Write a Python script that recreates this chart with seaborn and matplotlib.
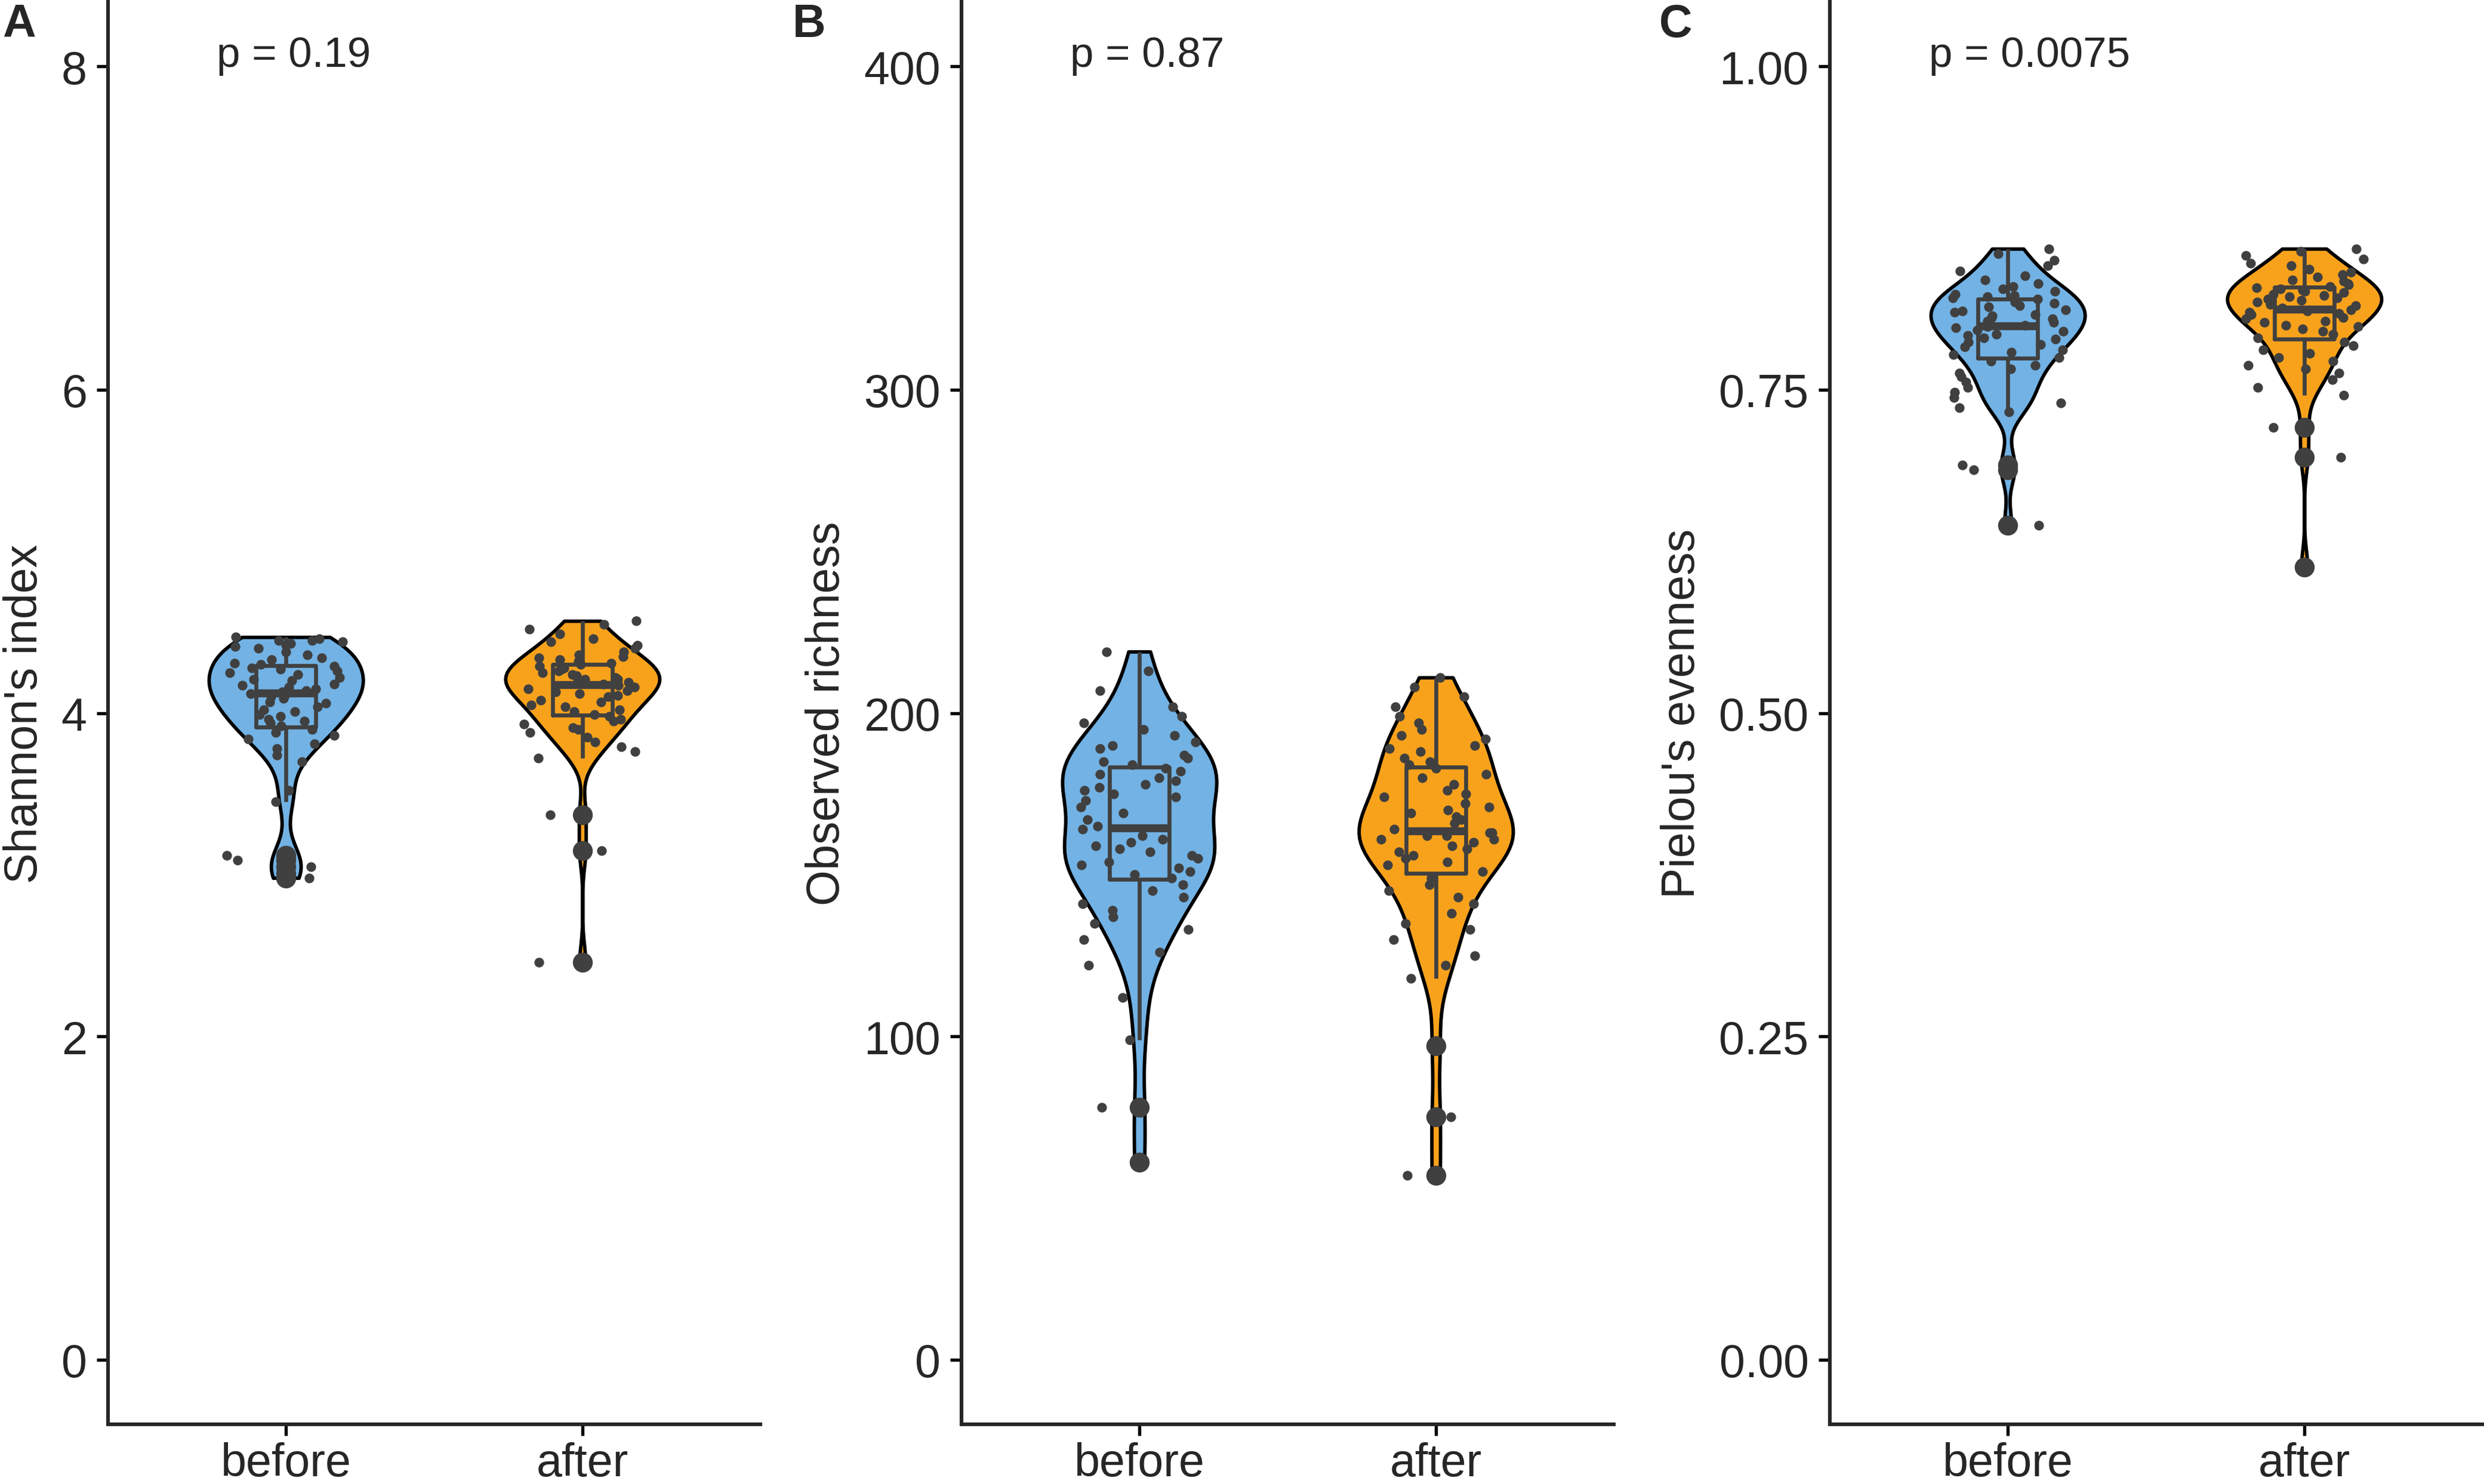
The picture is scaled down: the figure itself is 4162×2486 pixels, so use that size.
import numpy as np
import pandas as pd
import seaborn as sns
import matplotlib
matplotlib.use("Agg")
import matplotlib.pyplot as plt

#%% data
groups = ["before", "after"]

shannon_before = [4.47, 4.46, 4.45, 4.45, 4.44, 4.43, 4.42, 4.41, 4.40, 4.38, 4.36, 4.34, 4.33, 4.31, 4.30,
                  4.29, 4.28, 4.27, 4.26, 4.25, 4.24, 4.22, 4.21, 4.20, 4.18, 4.17, 4.16, 4.15, 4.14, 4.13,
                  4.12, 4.11, 4.10, 4.09, 4.07, 4.06, 4.04, 4.02, 4.01, 3.99, 3.98, 3.96, 3.95, 3.94, 3.92,
                  3.90, 3.88, 3.86, 3.84, 3.81, 3.78, 3.74, 3.70, 3.52, 3.45, 3.12, 3.09, 3.05, 3.01, 2.98]
shannon_after = [4.57, 4.55, 4.52, 4.49, 4.46, 4.44, 4.42, 4.40, 4.38, 4.36, 4.35, 4.34, 4.33, 4.32, 4.31,
                 4.30, 4.29, 4.28, 4.27, 4.26, 4.25, 4.24, 4.23, 4.22, 4.21, 4.21, 4.20, 4.19, 4.19, 4.18,
                 4.17, 4.16, 4.15, 4.14, 4.13, 4.12, 4.11, 4.10, 4.08, 4.07, 4.05, 4.04, 4.02, 4.01, 3.99,
                 3.98, 3.96, 3.95, 3.93, 3.91, 3.90, 3.88, 3.85, 3.82, 3.79, 3.76, 3.72, 3.37, 3.15, 2.46]

richness_before = [219, 213, 207, 202, 199, 197, 195, 193, 191, 190, 189, 187, 186, 185, 184,
                   183, 182, 181, 180, 179, 178, 177, 176, 175, 174, 173, 171, 169, 167, 165,
                   164, 162, 161, 160, 159, 158, 157, 156, 155, 154, 153, 152, 151, 150, 149,
                   147, 145, 143, 141, 139, 137, 135, 133, 130, 126, 122, 112, 99, 78, 61]
richness_after = [211, 208, 205, 202, 199, 197, 195, 193, 192, 190, 189, 188, 186, 185, 184,
                  183, 181, 180, 178, 176, 175, 174, 172, 171, 170, 169, 168, 167, 166, 164,
                  163, 163, 162, 162, 161, 161, 160, 159, 158, 157, 156, 155, 154, 153, 151,
                  149, 147, 145, 143, 141, 138, 135, 133, 130, 125, 122, 118, 97, 75, 57]

evenness_before = [0.859, 0.855, 0.850, 0.846, 0.842, 0.838, 0.835, 0.832, 0.830, 0.828, 0.826, 0.824, 0.823, 0.822, 0.821,
                   0.820, 0.818, 0.817, 0.815, 0.814, 0.812, 0.811, 0.810, 0.808, 0.807, 0.806, 0.805, 0.803, 0.802, 0.800,
                   0.799, 0.798, 0.796, 0.795, 0.793, 0.792, 0.790, 0.789, 0.787, 0.785, 0.783, 0.781, 0.779, 0.777, 0.775,
                   0.772, 0.769, 0.766, 0.763, 0.760, 0.756, 0.752, 0.748, 0.744, 0.740, 0.736, 0.733, 0.692, 0.688, 0.645]
evenness_after = [0.859, 0.857, 0.854, 0.851, 0.848, 0.846, 0.843, 0.841, 0.839, 0.837, 0.835, 0.834, 0.832, 0.831, 0.830,
                  0.829, 0.828, 0.827, 0.826, 0.825, 0.824, 0.823, 0.822, 0.821, 0.820, 0.819, 0.818, 0.816, 0.815, 0.813,
                  0.812, 0.811, 0.810, 0.809, 0.808, 0.806, 0.805, 0.803, 0.802, 0.800, 0.799, 0.797, 0.795, 0.793, 0.790,
                  0.787, 0.784, 0.781, 0.778, 0.775, 0.772, 0.769, 0.766, 0.763, 0.758, 0.752, 0.746, 0.721, 0.698, 0.613]

shannon_ticks = [0, 2, 4, 6, 8]
shannon_ticklabels = ["0", "2", "4", "6", "8"]
richness_ticks = [0, 100, 200, 300, 400]
richness_ticklabels = ["0", "100", "200", "300", "400"]
evenness_ticks = [0, 0.25, 0.5, 0.75, 1.0]
evenness_ticklabels = ["0.00", "0.25", "0.50", "0.75", "1.00"]

panel_letters = ["A", "B", "C"]
y_titles = ["Shannon's index", "Observed richness", "Pielou's evenness"]
p_labels = ["p = 0.19", "p = 0.87", "p = 0.0075"]

#%% plot setup
sns.set_theme(style="ticks")
plt.rcParams['font.family'] = ['Liberation Sans', 'DejaVu Sans']
plt.rcParams['axes.linewidth'] = 1.45
np.random.seed(7)

palette = {"before": "#72B2E4", "after": "#F8A21C"}
dark = "#404040"

panels = [
    (shannon_before, shannon_after, shannon_ticks, shannon_ticklabels),
    (richness_before, richness_after, richness_ticks, richness_ticklabels),
    (evenness_before, evenness_after, evenness_ticks, evenness_ticklabels),
]
lefts = [0.04349, 0.38707, 0.73667]
letter_x = [0.001, 0.3191, 0.6680]
p_x = [0.766, 0.766, 0.734]

fig = plt.figure(figsize=(4162 / 300, 2487 / 300), dpi=300)

for i, (before, after, ticks, ticklabels) in enumerate(panels):
    df = pd.DataFrame({
        'group': ["before"] * len(before) + ["after"] * len(after),
        'value': before + after,
    })
    ax = fig.add_axes([lefts[i], 0.04021, 0.26261, 0.95818])
    sns.violinplot(data=df, x='group', y='value', order=groups, hue='group', hue_order=groups,
                   palette=palette, legend=False, cut=0, inner=None, density_norm='area',
                   width=0.52, bw_adjust=0.7, linewidth=1.4, linecolor='black', saturation=1, ax=ax)
    sns.boxplot(data=df, x='group', y='value', order=groups, fill=False, color=dark, width=0.2,
                linewidth=1.6, fliersize=7, whis=1.5,
                boxprops=dict(linewidth=1.6, color=dark),
                whiskerprops=dict(linewidth=1.6, color=dark),
                flierprops=dict(marker='o', markerfacecolor=dark, markeredgecolor=dark),
                medianprops=dict(linewidth=3.2, color=dark), capprops=dict(linewidth=0), ax=ax)
    sns.stripplot(data=df, x='group', y='value', order=groups, color=dark, size=3.9, jitter=0.2,
                  linewidth=0, ax=ax)

    pad = 0.05 * (ticks[-1] - ticks[0])
    ax.set_ylim(ticks[0] - pad, ticks[-1] + pad)
    ax.set_xlim(-0.6, 1.6)
    ax.set_yticks(ticks)
    ax.set_yticklabels(ticklabels)
    ax.set_xlabel('')
    ax.set_ylabel(y_titles[i], fontsize=18.5, labelpad=6)
    ax.tick_params(axis='both', labelsize=18.5, length=4.5, width=1.3, color='black', pad=4)
    ax.tick_params(axis='x', pad=2.5)
    sns.despine(ax=ax)
    ax.text(p_x[i] - 1, ticks[-1], p_labels[i], fontsize=17, ha='left', va='baseline')
    fig.text(letter_x[i], 0.998, panel_letters[i], fontsize=18.5, fontweight='bold', ha='left', va='top')

fig.savefig('out.png', dpi=300)
